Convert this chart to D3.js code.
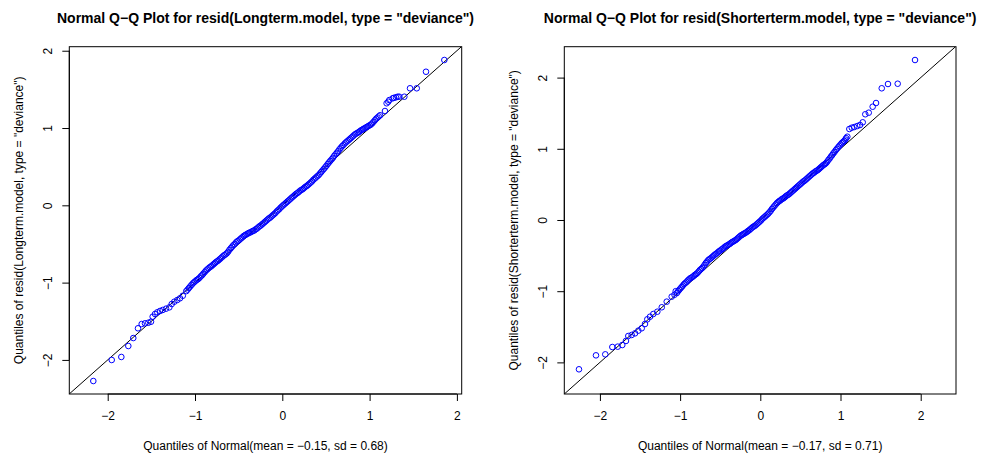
<!DOCTYPE html>
<html><head><meta charset="utf-8">
<script src="https://cdn.jsdelivr.net/npm/d3@7"></script>
<style>body{margin:0;background:#fff}svg{display:block}text{font-family:"Liberation Sans",Arial,Helvetica,sans-serif}</style>
</head><body><svg id="c" width="989" height="455"></svg>
<script>
// ---- data ----
const titles = ['Normal Q\u2212Q Plot for resid(Longterm.model, type = "deviance")',
                'Normal Q\u2212Q Plot for resid(Shorterterm.model, type = "deviance")'];
const yLabels = ['Quantiles of resid(Longterm.model, type = "deviance")',
                 'Quantiles of resid(Shorterterm.model, type = "deviance")'];
const xLabels = ['Quantiles of Normal(mean = \u22120.15, sd = 0.68)',
                 'Quantiles of Normal(mean = \u22120.17, sd = 0.71)'];
const tickValues = [-2, -1, 0, 1, 2];

// Long-term model: theoretical quantile (x) and residual quantile (y)
const longX = [-2.165,-1.954,-1.844,-1.764,-1.707,-1.653,-1.611,-1.573,-1.535,-1.504,-1.485,-1.458,-1.432,-1.401,-1.370,-1.332,-1.294,-1.267,-1.237,-1.203,-1.172,-1.140,
 -1.10,-1.07,-1.04,-1.01,-0.98,-0.95,-0.92,-0.89,-0.86,-0.83,-0.80,-0.77,-0.74,-0.71,-0.68,-0.65,-0.62,-0.59,-0.56,-0.53,-0.50,-0.47,-0.44,-0.41,-0.38,-0.35,-0.32,-0.29,-0.26,-0.23,-0.20,-0.17,-0.14,-0.11,-0.08,-0.05,-0.02,
 0.01,0.04,0.07,0.10,0.13,0.16,0.19,0.22,0.25,0.28,0.31,0.34,0.37,0.40,0.43,0.46,0.49,0.52,0.55,0.58,0.61,0.64,0.67,0.70,0.73,0.76,0.79,0.82,0.85,0.88,0.91,0.94,0.97,1.00,1.03,1.06,1.09,1.12,
 1.176,1.195,1.214,1.226,1.264,1.279,1.302,1.321,1.340,1.398,1.463,1.540,1.646,1.856];
const longY = [-2.273,-2.001,-1.962,-1.820,-1.717,-1.591,-1.536,-1.527,-1.519,-1.506,-1.441,-1.406,-1.384,-1.367,-1.354,-1.337,-1.320,-1.277,-1.247,-1.225,-1.203,-1.170,
 -1.11,-1.07,-1.03,-0.995,-0.965,-0.94,-0.905,-0.865,-0.83,-0.80,-0.775,-0.745,-0.72,-0.69,-0.66,-0.635,-0.60,-0.555,-0.515,-0.48,-0.455,-0.425,-0.395,-0.375,-0.355,-0.34,-0.325,-0.30,-0.27,-0.245,-0.215,-0.185,-0.16,-0.13,-0.10,-0.065,-0.03,
 0.00,0.03,0.06,0.09,0.12,0.15,0.175,0.20,0.225,0.25,0.28,0.31,0.345,0.375,0.41,0.45,0.49,0.535,0.575,0.615,0.66,0.70,0.745,0.78,0.815,0.845,0.875,0.905,0.93,0.95,0.975,0.995,1.015,1.035,1.06,1.10,1.135,1.165,
 1.220,1.320,1.340,1.362,1.384,1.391,1.397,1.405,1.405,1.405,1.514,1.514,1.728,1.880];
// further long-term points inside the dense band
const longBandX = [-1.085,-1.055,-1.025,-0.995,-0.965,-0.935,-0.905,-0.875,-0.845,-0.815,-0.785,-0.755,-0.725,-0.695,-0.665,-0.635,-0.605,-0.575,-0.545,-0.515,-0.485,-0.455,-0.425,-0.395,-0.365,-0.335,-0.305,-0.275,-0.245,-0.215,-0.185,-0.155,-0.125,-0.095,-0.065,-0.035,-0.005,
 0.025,0.055,0.085,0.115,0.145,0.175,0.205,0.235,0.265,0.295,0.325,0.355,0.385,0.415,0.445,0.475,0.505,0.535,0.565,0.595,0.625,0.655,0.685,0.715,0.745,0.775,0.805,0.835,0.865,0.895,0.925,0.955,0.985,1.015,1.045,1.075,1.105];
const longBandY = [-1.09,-1.05,-1.01,-0.98,-0.955,-0.92,-0.885,-0.845,-0.815,-0.79,-0.76,-0.73,-0.705,-0.675,-0.645,-0.62,-0.575,-0.535,-0.50,-0.465,-0.44,-0.41,-0.385,-0.365,-0.35,-0.33,-0.31,-0.285,-0.26,-0.23,-0.20,-0.17,-0.145,-0.115,-0.08,-0.05,-0.015,
 0.015,0.045,0.075,0.105,0.135,0.16,0.19,0.21,0.24,0.265,0.295,0.33,0.36,0.39,0.43,0.47,0.51,0.555,0.595,0.64,0.68,0.725,0.765,0.80,0.83,0.86,0.89,0.92,0.94,0.965,0.985,1.005,1.025,1.045,1.08,1.12,1.15];

// Shorter-term model
const shortX = [-2.261,-2.049,-1.933,-1.845,-1.778,-1.721,-1.675,-1.646,-1.604,-1.562,-1.521,-1.479,-1.438,-1.409,-1.375,-1.334,-1.284,-1.229,-1.167,-1.105,-1.07,
 -1.04,-1.01,-0.98,-0.95,-0.92,-0.89,-0.86,-0.83,-0.80,-0.77,-0.74,-0.71,-0.68,-0.65,-0.62,-0.59,-0.56,-0.53,-0.50,-0.47,-0.44,-0.41,-0.38,-0.35,-0.32,-0.29,-0.26,-0.23,-0.20,-0.17,-0.14,-0.11,-0.08,-0.05,-0.02,
 0.01,0.04,0.07,0.10,0.13,0.16,0.19,0.22,0.25,0.28,0.31,0.34,0.37,0.40,0.43,0.46,0.49,0.52,0.55,0.58,0.61,0.64,0.67,0.70,0.73,0.76,0.79,0.82,0.85,0.88,0.91,0.94,0.97,1.00,1.03,1.06,1.085,
 1.110,1.140,1.172,1.209,1.243,1.277,1.309,1.352,1.401,1.443,1.514,1.592,1.713,1.929];
const shortY = [-2.097,-1.901,-1.887,-1.784,-1.779,-1.756,-1.699,-1.629,-1.615,-1.592,-1.554,-1.521,-1.461,-1.395,-1.358,-1.320,-1.288,-1.226,-1.147,-1.077,-1.05,
 -1.025,-0.98,-0.94,-0.90,-0.87,-0.835,-0.81,-0.785,-0.76,-0.725,-0.69,-0.655,-0.605,-0.565,-0.54,-0.51,-0.48,-0.455,-0.43,-0.405,-0.375,-0.355,-0.335,-0.31,-0.29,-0.265,-0.235,-0.21,-0.19,-0.17,-0.145,-0.115,-0.09,-0.065,-0.035,
 -0.005,0.03,0.06,0.09,0.13,0.175,0.215,0.25,0.275,0.30,0.325,0.35,0.375,0.405,0.435,0.465,0.495,0.525,0.55,0.58,0.61,0.64,0.665,0.69,0.715,0.745,0.775,0.80,0.845,0.89,0.935,0.98,1.02,1.06,1.095,1.13,1.17,
 1.278,1.296,1.306,1.320,1.334,1.372,1.485,1.507,1.591,1.643,1.850,1.910,1.914,2.247];
// further shorter-term points inside the dense band
const shortBandX = [-1.055,-1.025,-0.995,-0.965,-0.935,-0.905,-0.875,-0.845,-0.815,-0.785,-0.755,-0.725,-0.695,-0.665,-0.635,-0.605,-0.575,-0.545,-0.515,-0.485,-0.455,-0.425,-0.395,-0.365,-0.335,-0.305,-0.275,-0.245,-0.215,-0.185,-0.155,-0.125,-0.095,-0.065,-0.035,-0.005,
 0.025,0.055,0.085,0.115,0.145,0.175,0.205,0.235,0.265,0.295,0.325,0.355,0.385,0.415,0.445,0.475,0.505,0.535,0.565,0.595,0.625,0.655,0.685,0.715,0.745,0.775,0.805,0.835,0.865,0.895,0.925,0.955,0.985,1.015,1.045,1.07];
const shortBandY = [-1.00,-1.00,-0.96,-0.92,-0.885,-0.85,-0.82,-0.80,-0.77,-0.745,-0.705,-0.675,-0.63,-0.585,-0.55,-0.525,-0.495,-0.47,-0.44,-0.415,-0.39,-0.365,-0.345,-0.32,-0.30,-0.28,-0.25,-0.22,-0.20,-0.18,-0.155,-0.13,-0.10,-0.08,-0.05,-0.02,
 0.015,0.045,0.075,0.11,0.155,0.195,0.235,0.265,0.29,0.31,0.34,0.36,0.39,0.42,0.45,0.48,0.51,0.54,0.565,0.595,0.625,0.655,0.68,0.70,0.73,0.76,0.785,0.82,0.865,0.91,0.955,1.00,1.04,1.08,1.11,1.15];

const xDomains = [[-2.44, 2.055], [-2.444, 2.44]];
const yDomains = [[-2.441, 2.052], [-2.444, 2.434]];

// ---- layout ----
const panels = [
  {x0: 69.3, x1: 461.7, xs: longX.concat(longBandX), ys: longY.concat(longBandY)},
  {x0: 564.3, x1: 956, xs: shortX.concat(shortBandX), ys: shortY.concat(shortBandY)}
];
const yTop = 46.7, yBot = 394;
const svg = d3.select("#c");

panels.forEach((p, i) => {
  const x = d3.scaleLinear().domain(xDomains[i]).range([p.x0, p.x1]);
  const y = d3.scaleLinear().domain(yDomains[i]).range([yBot, yTop]);
  const g = svg.append("g");
  const fmt = d => d < 0 ? "\u2212" + Math.abs(d) : String(d);

  const cid = "clip" + i;
  svg.append("clipPath").attr("id", cid).append("rect")
     .attr("x", p.x0).attr("y", yTop).attr("width", p.x1 - p.x0).attr("height", yBot - yTop);

  // reference line y = x
  const lo = Math.max(xDomains[i][0], yDomains[i][0]), hi = Math.min(xDomains[i][1], yDomains[i][1]);
  g.append("line").attr("clip-path", `url(#${cid})`)
    .attr("x1", x(lo)).attr("y1", y(lo)).attr("x2", x(hi)).attr("y2", y(hi))
    .attr("stroke", "#000").attr("stroke-width", 1);

  // points
  g.append("g").selectAll("circle").data(d3.range(p.xs.length)).join("circle")
    .attr("cx", k => x(p.xs[k])).attr("cy", k => y(p.ys[k])).attr("r", 2.8)
    .attr("fill", "none").attr("stroke", "#0000ff").attr("stroke-width", 1);

  // box
  g.append("rect").attr("x", p.x0).attr("y", yTop).attr("width", p.x1 - p.x0).attr("height", yBot - yTop)
    .attr("fill", "none").attr("stroke", "#000").attr("stroke-width", 1);

  // x axis
  const ax = g.append("g").attr("transform", `translate(0,${yBot})`)
    .call(d3.axisBottom(x).tickValues(tickValues).tickFormat(fmt).tickSize(7).tickSizeOuter(0));
  ax.select(".domain").remove();
  ax.append("line").attr("x1", x(-2)).attr("x2", x(2)).attr("stroke", "#000");
  ax.selectAll("text").attr("dy", null).attr("y", 26).attr("font-size", 12).attr("fill", "#000")
    .attr("font-family", "Liberation Sans, Arial, sans-serif");

  // y axis
  const ay = g.append("g").attr("transform", `translate(${p.x0},0)`)
    .call(d3.axisLeft(y).tickValues(tickValues).tickFormat(fmt).tickSize(7).tickSizeOuter(0));
  ay.select(".domain").remove();
  ay.append("line").attr("y1", y(-2)).attr("y2", y(2)).attr("stroke", "#000");
  ay.selectAll(".tick text").attr("x", null).attr("dy", null).attr("text-anchor", "middle")
    .attr("transform", "translate(-17,0) rotate(-90)").attr("font-size", 12).attr("fill", "#000")
    .attr("font-family", "Liberation Sans, Arial, sans-serif");

  const cx = (p.x0 + p.x1) / 2, cy = (yTop + yBot) / 2;
  svg.append("text").attr("x", cx).attr("y", 23).attr("text-anchor", "middle")
    .attr("font-size", 14).attr("font-weight", "bold").text(titles[i]);
  svg.append("text").attr("x", cx).attr("y", 450).attr("text-anchor", "middle")
    .attr("font-size", 12).text(xLabels[i]);
  svg.append("text").attr("transform", `translate(${p.x0 - 46},${cy}) rotate(-90)`)
    .attr("text-anchor", "middle").attr("font-size", 12).text(yLabels[i]);
});
</script></body></html>
